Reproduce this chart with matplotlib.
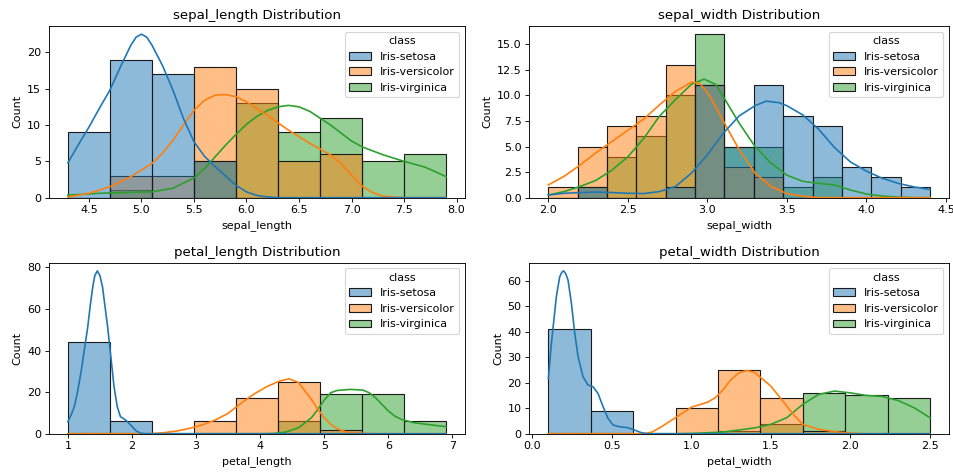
import numpy as np
import matplotlib
matplotlib.use('Agg')
import matplotlib.pyplot as plt
from matplotlib.colors import to_rgba
from matplotlib.patches import Patch

classes = ['Iris-setosa', 'Iris-versicolor', 'Iris-virginica']
colors = ['#1f77b4', '#ff7f0e', '#2ca02c']

# histogram counts per class (bins span the full range of each column)
sepal_length_range = (4.3, 7.9)
sepal_length_setosa = [9, 19, 17, 5, 0, 0, 0, 0, 0]
sepal_length_versicolor = [0, 3, 3, 18, 15, 5, 6, 0, 0]
sepal_length_virginica = [0, 1, 0, 5, 13, 9, 11, 5, 6]

sepal_width_range = (2.0, 4.4)
sepal_width_setosa = [0, 1, 0, 0, 1, 11, 5, 11, 8, 7, 3, 2, 1]
sepal_width_versicolor = [1, 5, 7, 8, 13, 11, 3, 2, 0, 0, 0, 0, 0]
sepal_width_virginica = [0, 1, 4, 6, 10, 16, 5, 5, 1, 2, 0, 0, 0]

petal_length_range = (1.0, 6.9)
petal_length_setosa = [44, 6, 0, 0, 0, 0, 0, 0, 0]
petal_length_versicolor = [0, 0, 0, 6, 17, 25, 2, 0, 0]
petal_length_virginica = [0, 0, 0, 0, 0, 6, 19, 19, 6]

petal_width_range = (0.1, 2.5)
petal_width_setosa = [41, 9, 0, 0, 0, 0, 0, 0, 0]
petal_width_versicolor = [0, 0, 0, 10, 25, 14, 1, 0, 0]
petal_width_virginica = [0, 0, 0, 0, 1, 4, 16, 15, 14]

# kde curves (x, count-scaled density)
sl_setosa_x = [4.3, 4.4, 4.5, 4.6, 4.7, 4.8, 4.9, 4.95, 5.0, 5.05, 5.1, 5.2, 5.3, 5.4, 5.5, 5.6, 5.7, 5.8, 5.9, 6.0, 6.1, 6.2, 6.3, 7.9]
sl_setosa_y = [4.8, 7.3, 9.7, 12.3, 14.8, 18.0, 21.0, 22.1, 22.5, 22.1, 21.0, 18.2, 14.8, 10.9, 7.7, 5.7, 4.3, 3.0, 1.7, 0.8, 0.3, 0.1, 0.0, 0.0]
sl_versicolor_x = [4.3, 4.5, 4.7, 4.9, 5.1, 5.2, 5.3, 5.4, 5.5, 5.6, 5.7, 5.8, 5.9, 6.0, 6.2, 6.4, 6.6, 6.8, 6.9, 7.0, 7.1, 7.2, 7.3, 7.5, 7.9]
sl_versicolor_y = [0.1, 0.6, 1.5, 2.9, 4.7, 6.1, 7.9, 10.0, 12.0, 13.4, 14.1, 14.2, 13.9, 13.2, 11.3, 9.3, 7.5, 5.9, 4.7, 3.1, 1.6, 0.7, 0.2, 0.0, 0.0]
sl_virginica_x = [4.3, 4.6, 4.9, 5.1, 5.3, 5.5, 5.6, 5.7, 5.8, 5.9, 6.0, 6.1, 6.2, 6.3, 6.4, 6.5, 6.6, 6.8, 7.0, 7.1, 7.3, 7.5, 7.7, 7.9]
sl_virginica_y = [0.35, 0.6, 0.75, 0.8, 1.3, 2.7, 4.0, 5.6, 7.2, 8.7, 10.1, 11.2, 12.0, 12.5, 12.7, 12.5, 11.9, 10.0, 7.8, 7.0, 5.9, 5.0, 4.2, 2.9]

sw_setosa_x = [2.0, 2.1, 2.2, 2.3, 2.4, 2.5, 2.6, 2.7, 2.8, 2.9, 3.0, 3.1, 3.2, 3.3, 3.37, 3.45, 3.5, 3.6, 3.7, 3.8, 3.9, 4.0, 4.1, 4.2, 4.3, 4.4]
sw_setosa_y = [0.26, 0.43, 0.5, 0.55, 0.5, 0.43, 0.4, 0.6, 1.1, 2.4, 4.2, 6.3, 8.0, 9.0, 9.45, 9.3, 9.0, 8.1, 6.7, 4.9, 3.5, 2.6, 1.9, 1.4, 1.05, 0.8]
sw_versicolor_x = [2.0, 2.1, 2.2, 2.3, 2.4, 2.5, 2.6, 2.7, 2.8, 2.9, 2.95, 3.0, 3.05, 3.1, 3.2, 3.3, 3.4, 3.5, 3.6, 3.7, 4.4]
sw_versicolor_y = [1.25, 2.1, 3.2, 4.4, 5.5, 6.6, 7.7, 9.1, 10.4, 11.3, 11.2, 10.3, 9.0, 7.5, 4.7, 2.4, 1.1, 0.4, 0.15, 0.0, 0.0]
sw_virginica_x = [2.0, 2.1, 2.2, 2.3, 2.4, 2.5, 2.6, 2.7, 2.8, 2.9, 2.98, 3.05, 3.1, 3.2, 3.3, 3.4, 3.5, 3.6, 3.7, 3.8, 3.9, 4.0, 4.1, 4.2, 4.3, 4.4]
sw_virginica_y = [0.26, 0.6, 1.1, 1.7, 2.7, 4.0, 5.8, 8.0, 9.6, 11.1, 11.6, 11.1, 9.9, 7.3, 5.0, 3.4, 2.2, 1.6, 1.4, 1.25, 0.75, 0.36, 0.16, 0.05, 0.0, 0.0]

pl_setosa_x = [1.0, 1.05, 1.1, 1.15, 1.21, 1.31, 1.35, 1.39, 1.42, 1.46, 1.5, 1.54, 1.58, 1.62, 1.67, 1.72, 1.77, 1.82, 1.9, 1.98, 2.06, 2.13, 2.2, 6.9]
pl_setosa_y = [5.8, 9.0, 13.0, 20.0, 30.6, 51.4, 62.0, 71.0, 76.0, 78.3, 76.0, 70.6, 61.0, 51.4, 37.0, 22.6, 13.0, 8.2, 6.6, 4.2, 1.5, 0.3, 0.0, 0.0]
pl_versicolor_x = [1.0, 2.3, 2.5, 2.7, 2.9, 3.1, 3.3, 3.5, 3.7, 3.9, 4.1, 4.3, 4.45, 4.6, 4.7, 4.8, 4.9, 5.0, 5.1, 5.2, 5.3, 5.4, 5.6, 5.8, 6.9]
pl_versicolor_y = [0.0, 0.0, 0.5, 1.3, 2.6, 4.3, 6.6, 9.8, 14.6, 19.0, 22.6, 25.3, 26.4, 24.6, 20.5, 16.5, 11.7, 7.7, 4.5, 2.4, 1.3, 0.5, 0.15, 0.0, 0.0]
pl_virginica_x = [1.0, 4.0, 4.2, 4.4, 4.6, 4.8, 4.9, 5.0, 5.1, 5.2, 5.4, 5.6, 5.7, 5.8, 5.9, 6.0, 6.1, 6.2, 6.4, 6.6, 6.9]
pl_virginica_y = [0.0, 0.0, 0.1, 0.8, 2.9, 7.7, 11.7, 16.2, 19.7, 20.8, 21.3, 21.0, 19.7, 17.3, 14.1, 10.9, 8.5, 6.9, 5.3, 4.5, 3.4]

pw_setosa_x = [0.1, 0.119, 0.15, 0.171, 0.184, 0.196, 0.21, 0.224, 0.245, 0.266, 0.287, 0.318, 0.349, 0.381, 0.412, 0.444, 0.475, 0.507, 0.549, 0.601, 0.643, 0.685, 0.72, 2.5]
pw_setosa_y = [21.7, 35.4, 53.6, 61.4, 63.2, 63.8, 62.6, 60.1, 51.0, 39.3, 30.1, 22.3, 19.1, 18.4, 15.8, 10.6, 6.0, 3.4, 2.7, 2.35, 1.4, 0.4, 0.0, 0.0]
pw_versicolor_x = [0.1, 0.7, 0.75, 0.8, 0.9, 1.0, 1.1, 1.15, 1.2, 1.25, 1.3, 1.35, 1.4, 1.5, 1.6, 1.65, 1.7, 1.8, 1.9, 2.0, 2.1, 2.5]
pw_versicolor_y = [0.0, 0.0, 0.6, 2.3, 6.3, 10.4, 12.3, 14.1, 17.3, 21.3, 23.9, 24.8, 23.9, 18.6, 10.8, 6.9, 3.7, 1.7, 0.8, 0.26, 0.0, 0.0]
pw_virginica_x = [0.1, 0.9, 1.0, 1.2, 1.4, 1.5, 1.6, 1.7, 1.8, 1.9, 2.0, 2.1, 2.2, 2.3, 2.4, 2.5]
pw_virginica_y = [0.0, 0.0, 0.1, 0.65, 2.3, 3.7, 6.3, 11.5, 15.4, 16.7, 16.0, 15.0, 14.6, 13.0, 10.2, 6.3]

panels = {
    'sepal_length': (sepal_length_range,
                     [sepal_length_setosa, sepal_length_versicolor, sepal_length_virginica],
                     [(sl_setosa_x, sl_setosa_y), (sl_versicolor_x, sl_versicolor_y), (sl_virginica_x, sl_virginica_y)]),
    'sepal_width': (sepal_width_range,
                    [sepal_width_setosa, sepal_width_versicolor, sepal_width_virginica],
                    [(sw_setosa_x, sw_setosa_y), (sw_versicolor_x, sw_versicolor_y), (sw_virginica_x, sw_virginica_y)]),
    'petal_length': (petal_length_range,
                     [petal_length_setosa, petal_length_versicolor, petal_length_virginica],
                     [(pl_setosa_x, pl_setosa_y), (pl_versicolor_x, pl_versicolor_y), (pl_virginica_x, pl_virginica_y)]),
    'petal_width': (petal_width_range,
                    [petal_width_setosa, petal_width_versicolor, petal_width_virginica],
                    [(pw_setosa_x, pw_setosa_y), (pw_versicolor_x, pw_versicolor_y), (pw_virginica_x, pw_virginica_y)]),
}

# axes boxes [left, bottom, width, height] in figure fractions
positions = [
    [0.0514, 0.5812, 0.4365, 0.3637],
    [0.5554, 0.5812, 0.4404, 0.3637],
    [0.0514, 0.0811, 0.4365, 0.3623],
    [0.5554, 0.0811, 0.4404, 0.3623],
]


def draw_panel(ax, name, bin_range, counts, kdes):
    n_bins = len(counts[0])
    edges = np.linspace(bin_range[0], bin_range[1], n_bins + 1)
    width = edges[1] - edges[0]

    # last class first so setosa ends up on top, like seaborn's layering
    for i in reversed(range(len(classes))):
        ax.bar(edges[:-1], counts[i], width=width, align='edge',
               facecolor=to_rgba(colors[i], 0.5), edgecolor='#1a1a1a', linewidth=1.0)
    for i in reversed(range(len(classes))):
        kx, ky = kdes[i]
        ax.plot(kx, ky, color=colors[i], linewidth=1.5, solid_joinstyle='round')

    handles = [Patch(facecolor=to_rgba(c, 0.5), edgecolor='#1a1a1a') for c in colors]
    ax.legend(handles, classes, title='class', loc='upper right')
    ax.set_title('%s Distribution' % name)
    ax.set_xlabel(name)
    ax.set_ylabel('Count')


fig = plt.figure(figsize=(953 / 80, 472 / 80), dpi=80)
for pos, (name, (bin_range, counts, kdes)) in zip(positions, panels.items()):
    ax = fig.add_axes(pos)
    draw_panel(ax, name, bin_range, counts, kdes)

plt.savefig('out.png', dpi=80)
